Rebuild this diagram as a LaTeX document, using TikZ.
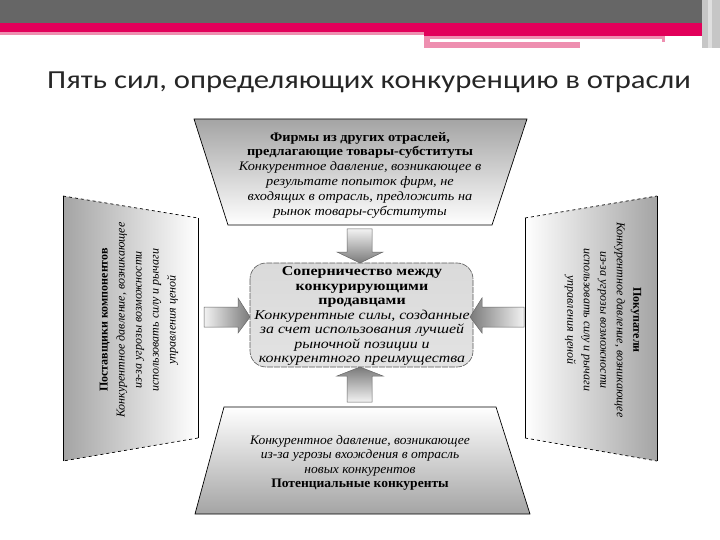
\documentclass[tikz,border=0pt]{standalone}
\usepackage{fontspec}
\setmainfont{Liberation Serif}
\newfontfamily\titlefont{Carlito}
\newfontfamily\topfont[FakeStretch=1.1]{Liberation Serif}
\newfontfamily\ctrfont[FakeStretch=1.18]{Liberation Serif}
\newfontfamily\botfont[FakeStretch=1.04]{Liberation Serif}
\usetikzlibrary{calc}
\definecolor{hdrgray}{HTML}{666666}
\definecolor{crimson}{HTML}{E2005A}
\definecolor{lpink}{HTML}{EE8FB0}
\definecolor{panelgray}{HTML}{A4A4A4}
\definecolor{boxgray}{HTML}{D6D6D6}
\definecolor{arrowdark}{HTML}{7A7A7A}
\definecolor{arrowlight}{HTML}{F2F2F2}
\tikzset{
  panel/.style={draw=black, line width=0.7pt},
  dashedge/.style={draw=black, dashed, line width=0.7pt},
  txt/.style={align=center, inner sep=0pt},
  blockarrow/.style={draw=gray!80!black, line width=0.5pt}
}
\begin{document}
\begin{tikzpicture}[x=1pt,y=-1pt]
\useasboundingbox (0,0) rectangle (720,540);
\fill[white] (0,0) rectangle (720,540);
% header
\fill[hdrgray] (0,0) rectangle (702,23);
\fill[crimson] (0,23) rectangle (702,32);
\fill[lpink] (0,32) rectangle (424,35);
\fill[crimson] (424,32) rectangle (702,36);
\fill[lpink] (424,36) rectangle (665,48);
\fill[white] (430,39) rectangle (662,42);
\fill[white] (580,42) rectangle (666,48);
\fill[gray!45] (702,0) rectangle (720,48);
\fill[gray!25] (708,0) rectangle (712,48);
% title
\node[font=\titlefont\fontsize{26}{29}\selectfont, text=black!85, anchor=west, inner sep=0pt] (title) at (47,82) {\scalebox{1.18}[1]{Пять сил, определяющих конкуренцию в отрасли}};

% top trapezoid
\shade[top color=panelgray, bottom color=white] (194,119) -- (527,119) -- (492,225) -- (228,225) -- cycle;
\draw[panel] (194,119) -- (527,119) -- (492,225) -- (228,225) -- cycle;
% bottom trapezoid
\shade[top color=white, bottom color=panelgray] (224,407) -- (496,407) -- (530,514) -- (195,514) -- cycle;
\draw[panel] (224,407) -- (496,407) -- (530,514) -- (195,514) -- cycle;
% left panel
\shade[left color=panelgray, right color=white] (63,196) -- (198,218) -- (198,438) -- (63,461) -- cycle;
\draw[panel] (63,461) -- (63,196);
\draw[panel] (198,218) -- (198,438);
\draw[dashedge] (63,196) -- (198,218);
\draw[dashedge] (198,438) -- (63,461);
% right panel
\shade[left color=white, right color=panelgray] (525,218) -- (657,196) -- (657,461) -- (525,438) -- cycle;
\draw[panel] (525,218) -- (525,438);
\draw[panel] (657,196) -- (657,461);
\draw[dashedge] (525,218) -- (657,196);
\draw[dashedge] (525,438) -- (657,461);
% centre box
\shade[rounded corners=16pt, top color=boxgray!90, bottom color=boxgray!70] (250,263) rectangle (473,367);
\draw[rounded corners=16pt, draw=black!65, line width=0.6pt, dash pattern=on 6pt off 1pt] (250,263) rectangle (473,367);

% block arrows
\shade[top color=arrowlight, bottom color=arrowdark, blockarrow] (347,229) -- (372,229) -- (372,252) -- (383,252) -- (360,263) -- (337,252) -- (347,252) -- cycle;
\shade[top color=arrowdark, bottom color=arrowlight, blockarrow] (347,402) -- (372,402) -- (372,376) -- (383,376) -- (360,367) -- (337,376) -- (347,376) -- cycle;
\shade[left color=arrowlight, right color=arrowdark, blockarrow] (204,307) -- (238,307) -- (238,298) -- (250,317) -- (238,333) -- (238,327) -- (204,327) -- cycle;
\shade[left color=arrowdark, right color=arrowlight, blockarrow] (524,307) -- (482,307) -- (482,298) -- (470,317) -- (482,333) -- (482,327) -- (524,327) -- cycle;

% texts
\node[txt, font=\topfont\fontsize{13}{14.8}\selectfont] (topt) at (360,175) {\textbf{Фирмы из других отраслей,}\\
\textbf{предлагающие товары-субституты}\\
\textit{Конкурентное давление, возникающее в}\\
\textit{результате попыток фирм, не}\\
\textit{входящих в отрасль, предложить на}\\
\textit{рынок товары-субституты}};

\node[txt, font=\ctrfont\fontsize{13.5}{14.5}\selectfont] (centre) at (362,316) {\textbf{Соперничество между}\\
\textbf{конкурирующими}\\
\textbf{продавцами}\\
\textit{Конкурентные силы, созданные}\\
\textit{за счет использования лучшей}\\
\textit{рыночной позиции и}\\
\textit{конкурентного преимущества}};

\node[txt, font=\botfont\fontsize{13}{14.5}\selectfont] (bott) at (360,463) {\textit{Конкурентное давление, возникающее}\\
\textit{из-за угрозы вхождения в отрасль}\\
\textit{новых конкурентов}\\
\textbf{Потенциальные конкуренты}};

\node[txt, rotate=90, font=\fontsize{12}{17}\selectfont] (leftt) at (139,320) {\textbf{Поставщики компонентов}\\
\textit{Конкурентное давление, возникающее}\\
\textit{из-за угрозы возможности}\\
\textit{использовать силу и рычаги}\\
\textit{управления ценой}};

\node[txt, rotate=-90, font=\fontsize{12}{16.5}\selectfont] (rightt) at (603,320) {\textbf{Покупатели}\\
\textit{Конкурентное давление, возникающее}\\
\textit{из-за угрозы возможности}\\
\textit{использовать силу и рычаги}\\
\textit{управления ценой}};
\end{tikzpicture}
\end{document}
